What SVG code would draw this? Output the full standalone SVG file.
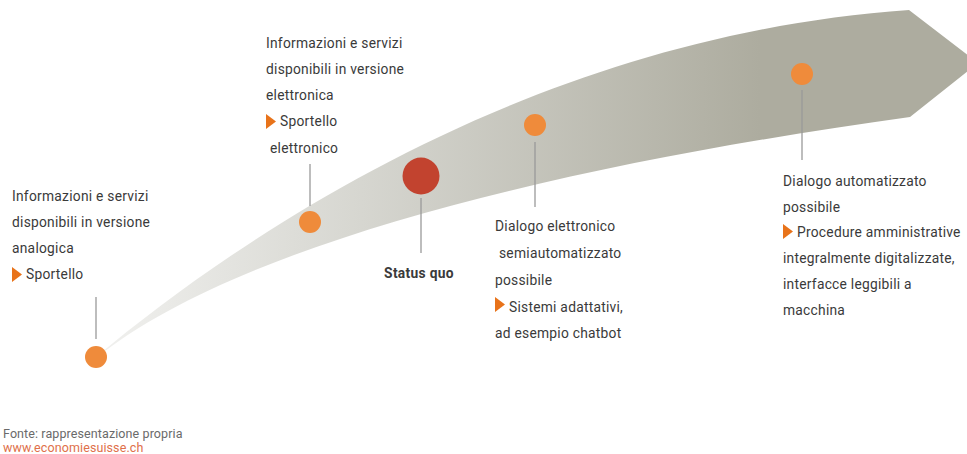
<svg xmlns="http://www.w3.org/2000/svg" width="967" height="454" viewBox="0 0 967 454">
<style>
.t{font-family:Roboto,"Liberation Sans",sans-serif;font-size:13.8px;letter-spacing:0.25px;fill:#3a3a3a}
.b{font-weight:bold;text-anchor:middle;letter-spacing:0.3px}
.f{font-family:Roboto,"Liberation Sans",sans-serif;font-size:12.5px;letter-spacing:0.1px;fill:#6a6a6a}
.u{fill:#e0704a}
.dot{fill:#ef8b3b}
.lead{stroke:#9a9a9a;stroke-width:1.3;fill:none}
.tri{fill:#e8731a}
</style>
<defs>
<linearGradient id="g" gradientUnits="userSpaceOnUse" x1="96" y1="0" x2="760" y2="0">
<stop offset="0" stop-color="#f1f1ef"/>
<stop offset="0.4" stop-color="#d6d6d0"/>
<stop offset="1" stop-color="#adac9f"/>
</linearGradient>
</defs>
<rect width="967" height="454" fill="#ffffff"/>
<g id="band">
<path d="M96,357 C260,220 550,35 909,10 L978,63 L910,117 C600,160 250,235 96,358 Z" fill="url(#g)"/>
</g>
<g id="connectors">
<line class="lead" x1="96" y1="297" x2="96" y2="339"/>
<line class="lead" x1="310" y1="164" x2="310" y2="206"/>
<line class="lead" x1="421" y1="198" x2="421" y2="253"/>
<line class="lead" x1="535" y1="142" x2="535" y2="207"/>
<line class="lead" x1="802" y1="90" x2="802" y2="160"/>
</g>
<g id="node-analog">
<circle class="dot" cx="96" cy="357" r="11"/>
<text class="t" x="12" y="200.5">Informazioni e servizi</text>
<text class="t" x="12" y="226.5">disponibili in versione</text>
<text class="t" x="12" y="252.5">analogica</text>
<polygon class="tri" points="12,267 22,274.5 12,282"/>
<text class="t" x="26" y="279">Sportello</text>
</g>
<g id="node-elettronica">
<circle class="dot" cx="310" cy="222" r="11"/>
<text class="t" x="266" y="48">Informazioni e servizi</text>
<text class="t" x="266" y="74">disponibili in versione</text>
<text class="t" x="266" y="100">elettronica</text>
<polygon class="tri" points="266,114 276,121.5 266,129"/>
<text class="t" x="280" y="126">Sportello</text>
<text class="t" x="270" y="152.5">elettronico</text>
</g>
<g id="node-status">
<circle cx="421" cy="176" r="18.5" fill="#c2432f"/>
<text class="t b" x="419" y="278">Status quo</text>
</g>
<g id="node-semi">
<circle class="dot" cx="535" cy="125" r="11"/>
<text class="t" x="495" y="231">Dialogo elettronico</text>
<text class="t" x="499" y="258">semiautomatizzato</text>
<text class="t" x="495" y="285">possibile</text>
<polygon class="tri" points="495,297 505,304.5 495,312"/>
<text class="t" x="509" y="312">Sistemi adattativi,</text>
<text class="t" x="495" y="338">ad esempio chatbot</text>
</g>
<g id="node-auto">
<circle class="dot" cx="802" cy="74" r="11"/>
<text class="t" x="783" y="186">Dialogo automatizzato</text>
<text class="t" x="783" y="212">possibile</text>
<polygon class="tri" points="783,224 793,231.5 783,239"/>
<text class="t" x="797" y="237">Procedure amministrative</text>
<text class="t" x="783" y="263">integralmente digitalizzate,</text>
<text class="t" x="783" y="289">interfacce leggibili a</text>
<text class="t" x="783" y="315">macchina</text>
</g>
<g id="source">
<text class="f" x="3" y="437.5">Fonte: rappresentazione propria</text>
<text class="f u" x="3" y="452">www.economiesuisse.ch</text>
</g>
</svg>
